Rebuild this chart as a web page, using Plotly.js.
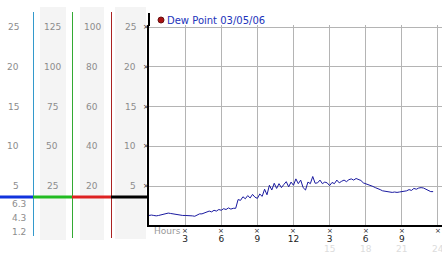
<!DOCTYPE html>
<html>
<head>
<meta charset="utf-8">
<script src="https://cdn.plot.ly/plotly-3.0.1.min.js"></script>
<style>html,body{margin:0;padding:0;background:#fff;}#chart{width:442px;height:253px;}</style>
</head>
<body>
<div id="chart"></div>
<script>
// ---- data ----
const seriesName = 'Dew Point 03/05/06';
const hours = [0,0.2,0.4,0.6,0.8,1,1.2,1.4,1.6,1.8,2,2.2,2.4,2.6,2.8,3,3.2,3.4,3.6,3.8,
  4,4.2,4.4,4.6,4.8,5,5.2,5.4,5.6,5.8,6,6.2,6.4,6.6,6.8,7,7.2,7.4,7.6,7.8,
  8,8.2,8.4,8.6,8.8,9,9.2,9.4,9.6,9.8,10,10.2,10.4,10.6,10.8,11,11.2,11.4,11.6,11.8,
  12,12.2,12.4,12.6,12.8,13,13.2,13.4,13.6,13.8,14,14.2,14.4,14.6,14.8,15,15.2,15.4,15.6,15.8,
  16,16.2,16.4,16.6,16.8,17,17.2,17.4,17.6,17.8,18,18.2,18.4,18.6,18.8,19,19.2,19.4,19.6,19.8,
  20,20.2,20.4,20.6,20.8,21,21.2,21.4,21.6,21.8,22,22.2,22.4,22.6,22.8,23,23.2,23.4,23.6];
const dewPoint = [1.3,1.35,1.3,1.25,1.3,1.4,1.5,1.55,1.6,1.55,1.5,1.45,1.35,1.3,1.3,1.3,1.3,1.3,1.25,1.2,
  1.4,1.5,1.5,1.65,1.7,1.85,1.75,1.95,1.85,2.05,1.95,2.15,2.05,2.25,2.1,2.2,2.2,3.3,3.2,3.65,
  3.4,3.8,3.5,3.95,3.6,3.45,4.0,3.7,4.6,3.9,5.1,4.5,5.35,4.7,5.3,4.8,5.2,5.55,4.9,5.5,
  5.1,5.9,5.3,5.75,4.8,4.5,5.5,5.3,6.2,5.35,5.4,5.75,5.3,5.5,5.4,5.05,5.45,5.3,5.75,5.4,
  5.6,5.75,5.55,5.8,5.9,5.75,5.95,5.8,5.7,5.4,5.3,5.2,5.05,4.95,4.8,4.7,4.55,4.4,4.35,4.25,
  4.2,4.2,4.25,4.2,4.25,4.3,4.3,4.4,4.55,4.45,4.7,4.6,4.75,4.8,4.75,4.6,4.4,4.3,4.3];
const xTickVals = [3,6,9,12,15,18,21,24];
const xTickText = ['3','6','9','12','3','6','9','12'];
const xSubVals = [15,18,21,24];
const xSubText = ['15','18','21','24'];
const yTickVals = [25,20,15,10,5];
const col1Labels = ['25','20','15','10','5'];
const col2Labels = ['125','100','75','50','25'];
const col3Labels = ['100','80','60','40','20'];
const col4Labels = ['25','20','15','10','5'];
const lowLabels = ['6.3','4.3','1.2'];
const xLabel = 'Hours';

// ---- geometry helpers (pixel -> paper) ----
const W = 442, H = 253, ML = 149, MR = 0, MT = 25, MB = 28;
const PW = W - ML - MR, PH = H - MT - MB;
const px = p => (p - ML) / PW;
const py = p => (H - MB - p) / PH;
const pxPerHour = 12.04;
const xMax = PW / pxPerHour;
const yMin = 0.1, yMax = yMin + PH / 7.95;

const gray = '#8c8c8c';
const F = 'DejaVu Sans, Verdana, sans-serif';

const shapes = [];
const rect = (x0, x1, y0, y1, c) => shapes.push({type:'rect', xref:'paper', yref:'paper', x0:px(x0), x1:px(x1), y0:py(y1), y1:py(y0), fillcolor:c, line:{width:0}, layer:'below'});
const vline = (x, y0, y1, c, w) => shapes.push({type:'line', xref:'paper', yref:'paper', x0:px(x), x1:px(x), y0:py(y0), y1:py(y1), line:{color:c, width:w}});
const hline = (x0, x1, y, c, w) => shapes.push({type:'line', xref:'paper', yref:'paper', x0:px(x0), x1:px(x1), y0:py(y), y1:py(y), line:{color:c, width:w}});

rect(40, 66, 7, 240, '#f4f4f4');
rect(80, 104, 7, 240, '#f4f4f4');
rect(115, 146, 7, 239, '#f4f4f4');
vline(33.5, 12, 236, '#3399cc', 1);
vline(72.5, 12, 238, '#33aa33', 1);
vline(111.5, 12, 238, '#aa2222', 1);
vline(149, 13, 26, '#000000', 2);
hline(0, 33, 197, '#1133dd', 3);
hline(33, 72, 197, '#22bb22', 3);
hline(72, 111, 197, '#dd2222', 3);
hline(111, 149, 197, '#000000', 3);
// legend dot
shapes.push({type:'circle', xref:'paper', yref:'paper', xsizemode:'pixel', ysizemode:'pixel',
  xanchor:px(161), yanchor:py(20), x0:-3, x1:3, y0:-3, y1:3, fillcolor:'#aa1111', line:{color:'#661111', width:1}});

const annotations = [];
const ann = (o) => annotations.push(Object.assign({showarrow:false, yanchor:'middle', font:{family:F, size:9, color:gray}}, o));

yTickVals.forEach((v, i) => {
  ann({text:col1Labels[i], xref:'paper', yref:'y', x:px(21), y:v, xanchor:'right'});
  ann({text:col2Labels[i], xref:'paper', yref:'y', x:px(52), y:v, xanchor:'center'});
  ann({text:col3Labels[i], xref:'paper', yref:'y', x:px(92), y:v, xanchor:'center'});
  ann({text:col4Labels[i], xref:'paper', yref:'y', x:px(138), y:v, xanchor:'right'});
  ann({text:'×', xref:'paper', yref:'y', x:px(146), y:v, xanchor:'center', font:{family:F, size:7, color:'#222'}});
});
const lowY = [204, 218, 232];
lowLabels.forEach((t, i) => ann({text:t, xref:'paper', yref:'paper', x:px(28), y:py(lowY[i]), xanchor:'right'}));
xTickVals.forEach(v => ann({text:'×', xref:'x', yref:'paper', x:v, y:py(231), xanchor:'center', font:{family:F, size:7, color:'#222'}}));
xSubVals.forEach((v, i) => ann({text:xSubText[i], xref:'x', yref:'paper', x:v, y:py(249), xanchor:'center', font:{family:F, size:9, color:'#dcdcdc'}}));
ann({text:xLabel, xref:'paper', yref:'paper', x:px(152), y:py(231), xanchor:'left', font:{family:F, size:9, color:'#999'}});
ann({text:seriesName, xref:'paper', yref:'paper', x:px(165), y:py(20), xanchor:'left', font:{family:F, size:10, color:'#2233bb'}});

const trace = {x:hours, y:dewPoint, type:'scatter', mode:'lines', line:{color:'#1a1aa0', width:1}, hoverinfo:'none', showlegend:false};

const layout = {
  width:W, height:H, margin:{l:ML, r:MR, t:MT, b:MB, pad:0},
  paper_bgcolor:'#fff', plot_bgcolor:'#fff', showlegend:false,
  xaxis:{range:[0, xMax], tickvals:xTickVals, ticktext:xTickText, ticks:'outside', ticklen:4, tickcolor:'rgba(0,0,0,0)',
    showgrid:true, gridcolor:'#b4b4b4', gridwidth:1, zeroline:false, showline:true, linecolor:'#000', linewidth:2,
    tickfont:{family:F, size:9, color:'#222'}, fixedrange:true},
  yaxis:{range:[yMin, yMax], tickvals:yTickVals, showticklabels:false, ticks:'',
    showgrid:true, gridcolor:'#b4b4b4', gridwidth:1, zeroline:false, showline:true, linecolor:'#000', linewidth:2, fixedrange:true},
  shapes:shapes, annotations:annotations
};
Plotly.newPlot('chart', [trace], layout, {staticPlot:true, displayModeBar:false});
</script>
</body>
</html>
